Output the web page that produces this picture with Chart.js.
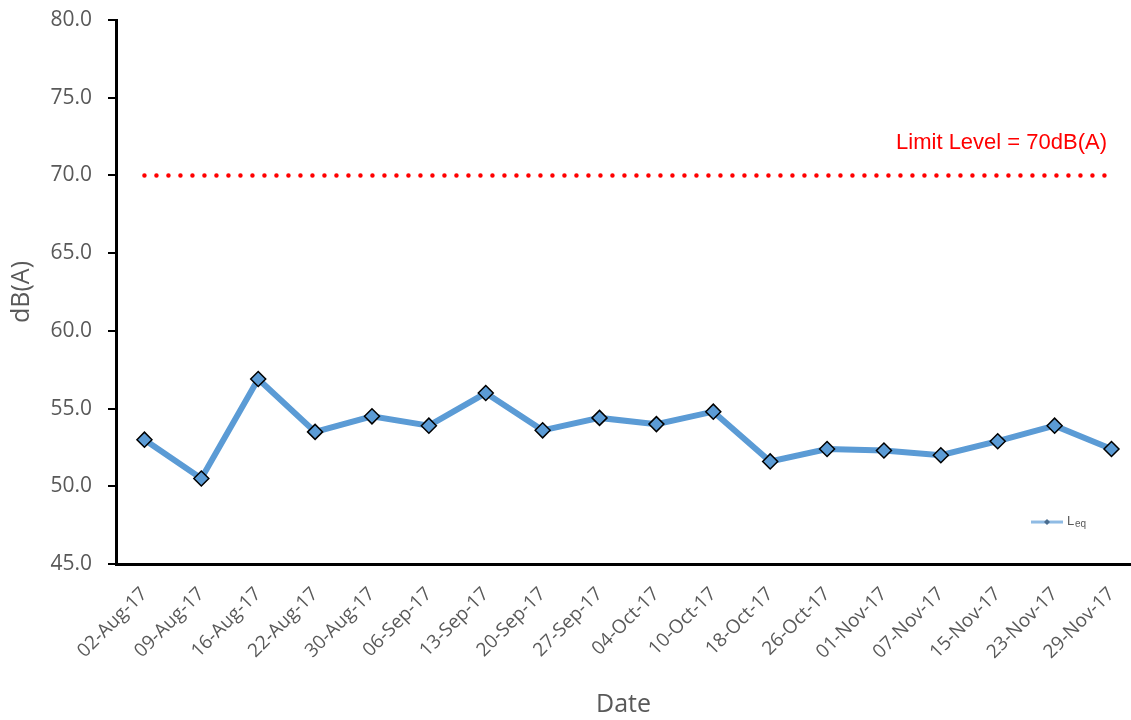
<!DOCTYPE html>
<html>
<head>
<meta charset="utf-8">
<script src="https://cdn.jsdelivr.net/npm/chart.js@4"></script>
<style>
html,body{margin:0;padding:0;background:#fff;overflow:hidden;}
#wrap{width:1131px;height:720px;}
</style>
</head>
<body>
<div id="wrap"><canvas id="c" width="1131" height="720"></canvas></div>
<script>
const categories = ["02-Aug-17","09-Aug-17","16-Aug-17","22-Aug-17","30-Aug-17","06-Sep-17","13-Sep-17","20-Sep-17","27-Sep-17","04-Oct-17","10-Oct-17","18-Oct-17","26-Oct-17","01-Nov-17","07-Nov-17","15-Nov-17","23-Nov-17","29-Nov-17"];
const leqValues = [53.0,50.5,56.9,53.5,54.5,53.9,56.0,53.6,54.4,54.0,54.8,51.6,52.4,52.3,52.0,52.9,53.9,52.4];
const limitLevel = 70;
const yTicks = [45,50,55,60,65,70,75,80];
const limitLabel = "Limit Level = 70dB(A)";

const leqPoints = leqValues.map((v, i) => ({ x: i, y: v }));
const limitPoints = categories.map((c, i) => ({ x: i, y: limitLevel }));

const overlay = {
  id: 'overlay',
  afterDatasetsDraw(chart) {
    const ctx = chart.ctx;
    const y = chart.scales.y;
    ctx.save();
    ctx.fillStyle = '#ff0000';
    ctx.font = '22px "Liberation Sans", Arial, sans-serif';
    ctx.textAlign = 'right';
    ctx.textBaseline = 'middle';
    ctx.fillText(limitLabel, 1107, y.getPixelForValue(limitLevel) - 32);
    const ly = y.getPixelForValue(47.7);
    ctx.strokeStyle = '#8fbbe4';
    ctx.lineWidth = 3;
    ctx.beginPath(); ctx.moveTo(1031, ly); ctx.lineTo(1063, ly); ctx.stroke();
    ctx.fillStyle = '#4a6d8f';
    ctx.beginPath(); ctx.moveTo(1047, ly-3); ctx.lineTo(1050, ly); ctx.lineTo(1047, ly+3); ctx.lineTo(1044, ly); ctx.closePath(); ctx.fill();
    ctx.fillStyle = '#595959';
    ctx.textAlign = 'left';
    ctx.font = '13px "Liberation Sans", Arial, sans-serif';
    ctx.fillText('L', 1067, ly - 1);
    ctx.font = '10px "Liberation Sans", Arial, sans-serif';
    ctx.fillText('eq', 1075, ly + 2);
    ctx.restore();
  }
};

new Chart(document.getElementById('c'), {
  type: 'line',
  data: {
    datasets: [
      {
        label: 'Leq',
        data: leqPoints,
        borderColor: '#5b9bd5',
        borderWidth: 6,
        pointStyle: 'rectRot',
        pointRadius: 7.5,
        pointBackgroundColor: '#5b9bd5',
        pointBorderColor: '#000000',
        pointBorderWidth: 1.5,
        tension: 0,
        clip: false,
        order: 1
      },
      {
        label: 'Limit',
        data: limitPoints,
        borderColor: '#ff0000',
        borderWidth: 4.5,
        borderDash: [0, 12.0],
        borderCapStyle: 'round',
        pointRadius: 0,
        fill: false,
        clip: false,
        order: 2
      }
    ]
  },
  options: {
    responsive: false,
    animation: false,
    devicePixelRatio: 1,
    layout: { autoPadding: false, padding: { left: 0, top: 20, right: 0, bottom: 0 } },
    plugins: { legend: { display: false }, tooltip: { enabled: false } },
    scales: {
      x: {
        type: 'linear',
        min: -0.5,
        max: 17.343,
        afterFit(s) { s.height = 156; s.paddingLeft = 0; s.paddingRight = 0; },
        afterBuildTicks(s) { s.ticks = categories.map((c, i) => ({ value: i })); },
        border: { display: true, color: '#000', width: 3 },
        grid: { display: false, drawTicks: false },
        ticks: {
          autoSkip: false,
          maxRotation: 45, minRotation: 45,
          color: '#595959',
          padding: 19,
          font: { family: '"Open Sans", sans-serif', size: 19 },
          callback: v => categories[v]
        },
        title: {
          display: true, text: 'Date', color: '#595959',
          font: { family: '"Open Sans", sans-serif', size: 25 },
          padding: { top: 0, bottom: 0 }
        }
      },
      y: {
        min: 45, max: 80,
        afterFit(s) { s.width = 116; s.paddingTop = 0; s.paddingBottom = 0; },
        afterBuildTicks(s) { s.ticks = yTicks.map(v => ({ value: v })); },
        border: { display: true, color: '#000', width: 3 },
        grid: { drawOnChartArea: false, drawTicks: true, tickLength: 8, color: '#000', lineWidth: 2 },
        ticks: {
          color: '#595959',
          padding: 16,
          font: { family: '"Open Sans", sans-serif', size: 21 },
          callback: v => Number(v).toFixed(1)
        },
        title: {
          display: true, text: 'dB(A)', color: '#595959',
          font: { family: '"Open Sans", sans-serif', size: 25 },
          padding: { top: 7, bottom: 0 }
        }
      }
    }
  },
  plugins: [overlay]
});
</script>
</body>
</html>
